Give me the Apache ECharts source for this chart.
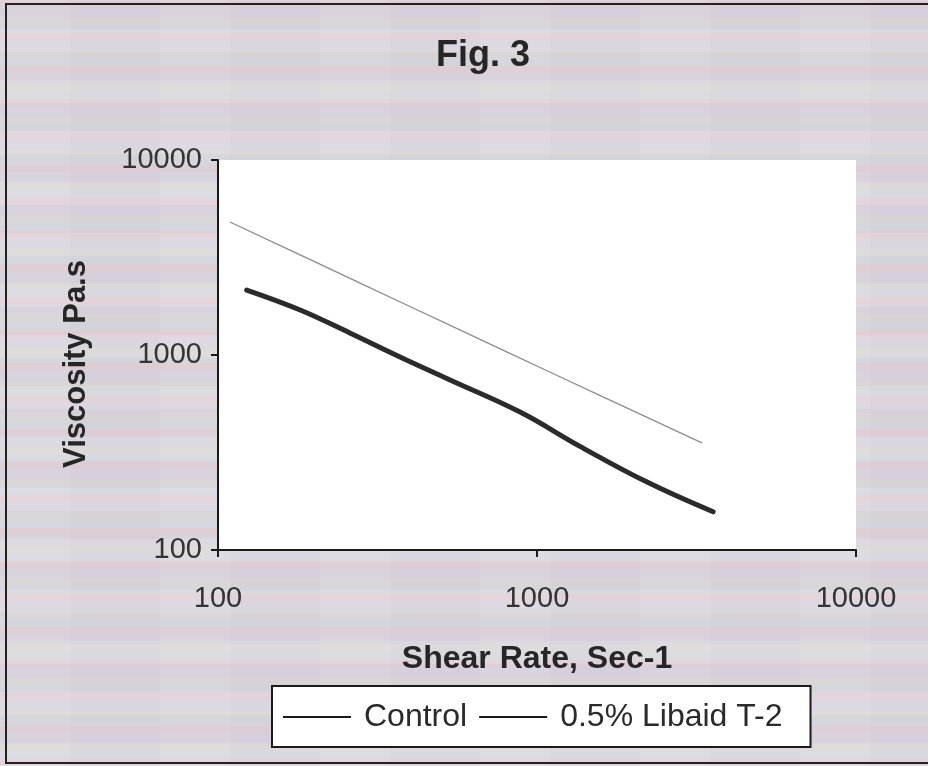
<!DOCTYPE html>
<html>
<head>
<meta charset="utf-8">
<script src="https://cdn.jsdelivr.net/npm/echarts@6/dist/echarts.min.js"></script>
<style>
html,body{margin:0;padding:0;width:928px;height:766px;overflow:hidden;}
body{
  background-color:#dad6dc;
  background-image:
    repeating-linear-gradient(0deg, rgba(236,196,206,0.30) 0px, rgba(236,196,206,0.30) 7px, rgba(205,218,228,0.28) 7px, rgba(205,218,228,0.28) 15px, rgba(222,220,204,0.24) 15px, rgba(222,220,204,0.24) 22px, rgba(214,206,228,0.28) 22px, rgba(214,206,228,0.28) 33px),
    repeating-linear-gradient(0deg, rgba(255,255,255,0.10) 0px, rgba(255,255,255,0.10) 23px, rgba(180,170,180,0.08) 23px, rgba(180,170,180,0.08) 51px),
    repeating-linear-gradient(90deg, rgba(255,255,255,0.06) 0px, rgba(255,255,255,0.06) 70px, rgba(190,180,190,0.06) 70px, rgba(190,180,190,0.06) 160px);
}
#frame{position:absolute;left:5px;top:3px;width:940px;height:757px;border:2px solid #222;box-sizing:content-box;}
#chart{position:absolute;left:0;top:0;width:928px;height:766px;}
</style>
</head>
<body>
<div id="frame"></div>
<div id="chart"></div>
<script>
const titleText = "Fig. 3";
const xName = "Shear Rate, Sec-1";
const yName = "Viscosity Pa.s";
const seriesNames = ["Control", "0.5% Libaid T-2"];
// Control: [shear rate, viscosity]
const controlX = [123, 181, 259, 372, 534, 885, 1364, 2213, 3565];
const controlY = [2154, 1702, 1297, 977, 745, 510, 340, 223, 157];
// 0.5% Libaid T-2
const libaidX = [109, 200, 398, 794, 1585, 3289];
const libaidY = [4808, 3020, 1778, 1047, 617, 354];

const zip = (xs, ys) => xs.map((x, i) => [x, ys[i]]);

const chart = echarts.init(document.getElementById('chart'), null, {renderer: 'canvas'});
const font = 'Liberation Sans, Arial, sans-serif';
chart.setOption({
  backgroundColor: 'transparent',
  animation: false,
  title: {
    text: titleText, left: 478, top: 33, textAlign: 'center',
    textStyle: {fontFamily: font, fontSize: 36, fontWeight: 'bold', color: '#262626'}
  },
  grid: {left: 218, right: 72, top: 160, bottom: 216, show: true, backgroundColor: '#ffffff', borderWidth: 0},
  xAxis: {
    type: 'log', min: 100, max: 10000, logBase: 10,
    name: xName, nameLocation: 'middle', nameGap: 93,
    nameTextStyle: {fontFamily: font, fontSize: 32, fontWeight: 'bold', color: '#262626'},
    axisLine: {show: true, lineStyle: {color: '#1a1a1a', width: 2}},
    axisTick: {show: true, inside: false, length: 7, lineStyle: {color: '#1a1a1a', width: 2}},
    axisLabel: {fontFamily: font, fontSize: 29, color: '#333', margin: 34, formatter: v => String(v)},
    splitLine: {show: false},
    minorTick: {show: false}
  },
  yAxis: {
    type: 'log', min: 100, max: 10000, logBase: 10,
    name: yName, nameLocation: 'middle', nameGap: 126, nameRotate: 90,
    nameTextStyle: {fontFamily: font, fontSize: 31, fontWeight: 'bold', color: '#262626', padding: [0, 18, 0, 0]},
    axisLine: {show: true, lineStyle: {color: '#1a1a1a', width: 2}},
    axisTick: {show: true, inside: false, length: 7, lineStyle: {color: '#1a1a1a', width: 2}},
    axisLabel: {fontFamily: font, fontSize: 29, color: '#333', margin: 16, formatter: v => String(v)},
    splitLine: {show: false}
  },
  legend: {
    left: 272, top: 686,
    orient: 'horizontal',
    backgroundColor: '#ffffff', borderColor: '#1a1a1a', borderWidth: 2,
    padding: [15, 28, 14, 11],
    itemGap: 12, itemWidth: 68, itemHeight: 2,
    icon: 'rect',
    itemStyle: {color: '#1a1a1a'},
    textStyle: {fontFamily: font, fontSize: 32, color: '#2a2a2a', padding: [0, 0, 0, 8]},
    data: seriesNames
  },
  series: [
    {
      name: seriesNames[0], type: 'line', data: zip(controlX, controlY),
      smooth: 0.4, showSymbol: false, symbol: 'none',
      lineStyle: {color: '#2b2b2b', width: 5, cap: 'round'},
      itemStyle: {color: '#1a1a1a'}
    },
    {
      name: seriesNames[1], type: 'line', data: zip(libaidX, libaidY),
      smooth: 0.4, showSymbol: false, symbol: 'none',
      lineStyle: {color: '#8c8c8c', width: 1.3},
      itemStyle: {color: '#1a1a1a'}
    }
  ]
});
</script>
</body>
</html>
